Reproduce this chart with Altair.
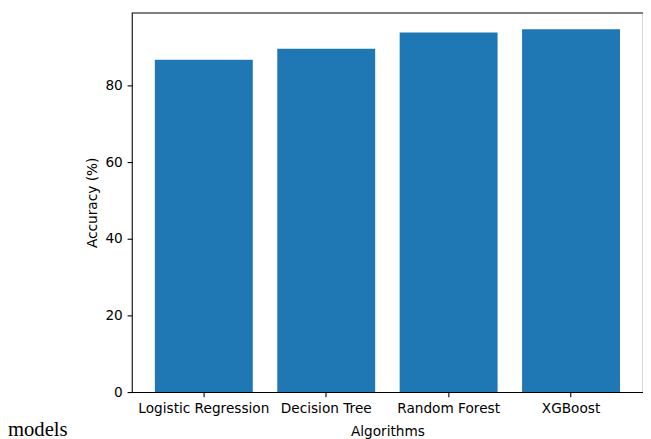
import altair as alt
import pandas as pd

algorithms = ["Logistic Regression", "Decision Tree", "Random Forest", "XGBoost"]
accuracy = [86.7, 89.6, 93.8, 94.7]
y_ticks = [0, 20, 40, 60, 80]
note_text = ["models"]

df = pd.DataFrame({"Algorithm": algorithms, "Accuracy": accuracy})
note_df = pd.DataFrame({"t": note_text})

FONT = "DejaVu Sans"

bars = alt.Chart(df).mark_bar(color="#1f77b4").encode(
    x=alt.X(
        "Algorithm:N",
        sort=algorithms,
        scale=alt.Scale(paddingInner=0.2, paddingOuter=0.188),
        axis=alt.Axis(
            title="Algorithms",
            labelAngle=0,
            labelFont=FONT,
            labelFontSize=13.9,
            labelColor="black",
            tickColor="black",
            tickSize=4.86,
            tickWidth=1.1,
            labelPadding=4.86,
            domain=False,
            titleFont=FONT,
            titleFontSize=13.9,
            titleFontWeight="normal",
            titleColor="black",
            titlePadding=10,
        ),
    ),
    y=alt.Y(
        "Accuracy:Q",
        scale=alt.Scale(domain=[0, 99.0], nice=False, zero=True),
        axis=alt.Axis(
            title="Accuracy (%)",
            values=y_ticks,
            grid=False,
            labelFont=FONT,
            labelFontSize=13.9,
            labelColor="black",
            tickColor="black",
            tickSize=4.86,
            tickWidth=1.1,
            labelPadding=4.86,
            domain=False,
            titleFont=FONT,
            titleFontSize=13.9,
            titleFontWeight="normal",
            titleColor="black",
            titlePadding=5.5,
        ),
    ),
)

note = alt.Chart(note_df).mark_text(
    font="Liberation Serif",
    fontSize=21,
    align="left",
    baseline="alphabetic",
    color="black",
).encode(
    text="t:N",
    x=alt.value(-126),
    y=alt.value(431),
)

chart = alt.layer(bars, note).properties(
    width=520,
    height=386,
    background="white",
    autosize=alt.AutoSizeParams(type="none"),
    padding={"left": 126, "top": 1, "right": 0, "bottom": 44},
).configure_view(
    stroke="black",
    strokeWidth=1.1,
)

chart.save("out.html", embed_options={"renderer": "svg", "actions": False})
